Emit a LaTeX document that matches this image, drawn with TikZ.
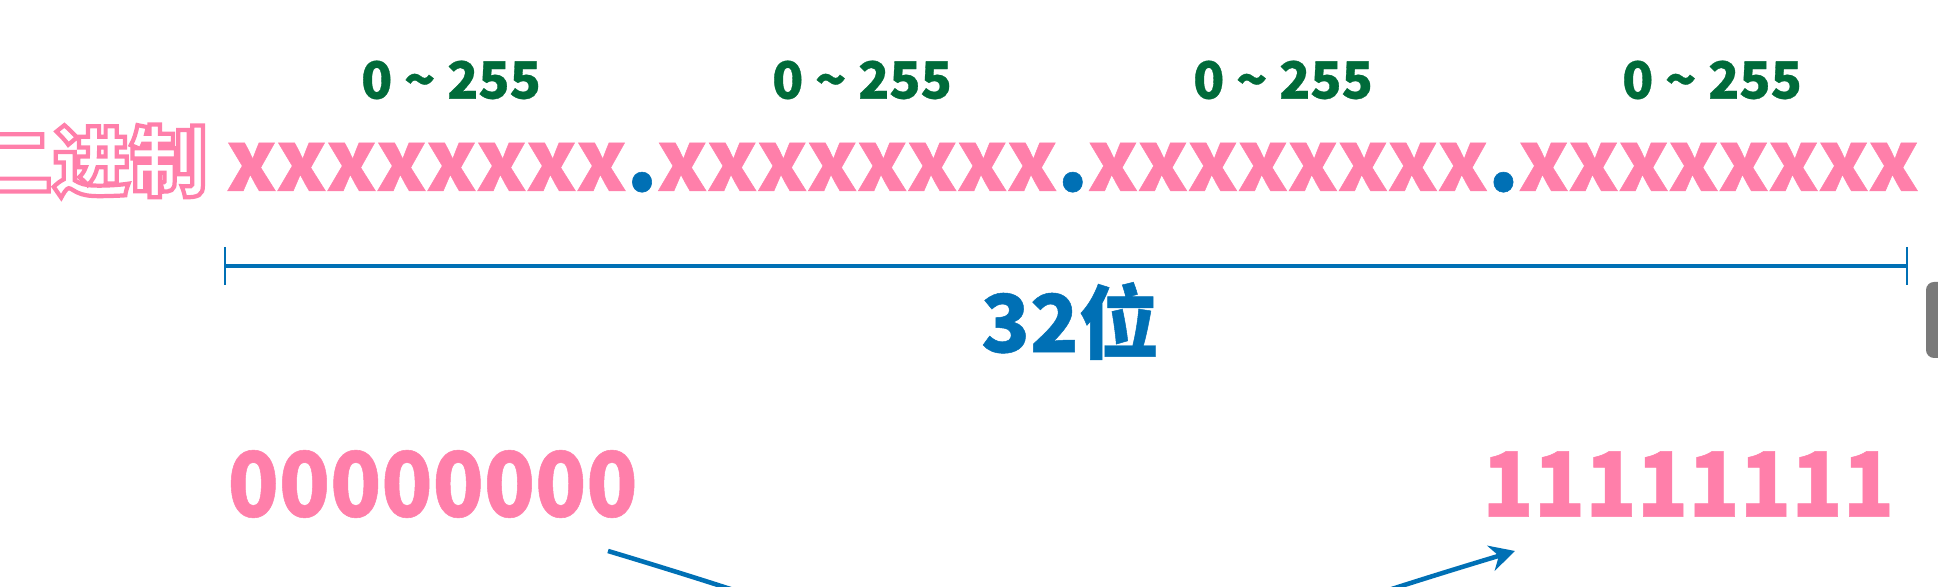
\documentclass[tikz,border=0pt]{standalone}
\usepackage{fontspec}
\setmainfont{Noto Sans CJK SC}[BoldFeatures={FakeBold=0.6}]
\newfontfamily\outlinefont{Noto Sans CJK SC}
\usetikzlibrary{arrows.meta}
\definecolor{ippink}{HTML}{FF7FAA}
\definecolor{ipblue}{HTML}{0070B5}
\definecolor{ipgreen}{HTML}{006B3A}
\definecolor{ipgray}{HTML}{7A7A7A}
% hollow (stroked) letters
\newcommand\hollow[1]{\special{pdf:literal direct 1 Tr 1.2 w}#1\special{pdf:literal direct 0 Tr}}

\begin{document}
\begin{tikzpicture}[
  xs/.style={inner sep=0pt,anchor=base,text=ippink,font=\bfseries\fontsize{24.1pt}{27pt}\selectfont},
  dotx/.style={inner sep=0pt,anchor=base,text=ipblue,font=\bfseries\fontsize{26pt}{30pt}\selectfont},
  rangelbl/.style={inner sep=0pt,text=ipgreen,font=\bfseries\fontsize{14.6pt}{16pt}\selectfont},
  num/.style={inner sep=0pt,text=ippink,font=\bfseries\fontsize{25.6pt}{28pt}\selectfont},
  blueline/.style={draw=ipblue,line width=1.4pt},
  tickline/.style={draw=ipblue,line width=0.8pt},
  bytearc/.style={draw=ipblue,line width=1.3pt,-{Stealth[length=0.25cm,width=0.26cm]}}]
\useasboundingbox (0,0) rectangle (19.38,5.87);
\clip (0,0) rectangle (19.38,5.87);

% top: binary string
\node[inner sep=0pt,anchor=base east,text=ippink,font=\outlinefont\bfseries\fontsize{22pt}{25pt}\selectfont]
  (bin) at (2.08,3.97) {\hollow{二进制}};
\foreach \g in {0,...,3}
  \foreach \i in {0,...,7}
    \node[xs] (x\g\i) at ({2.515+\g*4.307+\i*0.50},3.96) {x};
\foreach \g in {0,1,2}
  \node[dotx] (d\g) at ({6.42+\g*4.307},3.96) {.};
\foreach \x [count=\k] in {4.51,8.62,12.83,17.12}
  \node[rangelbl] (r\k) at (\x,5.07) {0 \textasciitilde{} 255};

% length bar
\coordinate (bl) at (2.25,3.21);
\coordinate (br) at (19.07,3.21);
\draw[blueline] (bl) -- (br);
\draw[tickline] ([yshift=0.19cm]bl) -- ([yshift=-0.19cm]bl);
\draw[tickline] ([yshift=0.19cm]br) -- ([yshift=-0.19cm]br);
\node[inner sep=0pt,text=ipblue,font=\bfseries\fontsize{22.8pt}{26pt}\selectfont] (len) at (10.70,2.66) {32位};
\fill[ipgray,rounded corners=0.08cm] (19.26,3.05) rectangle (19.7,2.29);

% bottom: range of one byte
\node[num,anchor=west] (lo) at (2.27,1.03) {\scalebox{0.935}[1]{00000000}};
\node[num,anchor=east] (hi) at (18.95,1.03) {\scalebox{0.94}[1]{11111111}};
\coordinate (s) at (6.08,0.36);
\coordinate (e) at (15.15,0.36);
\draw[bytearc] (s) .. controls (12.08,-1.44) and (9.15,-1.44) .. (e);
\end{tikzpicture}
\end{document}
